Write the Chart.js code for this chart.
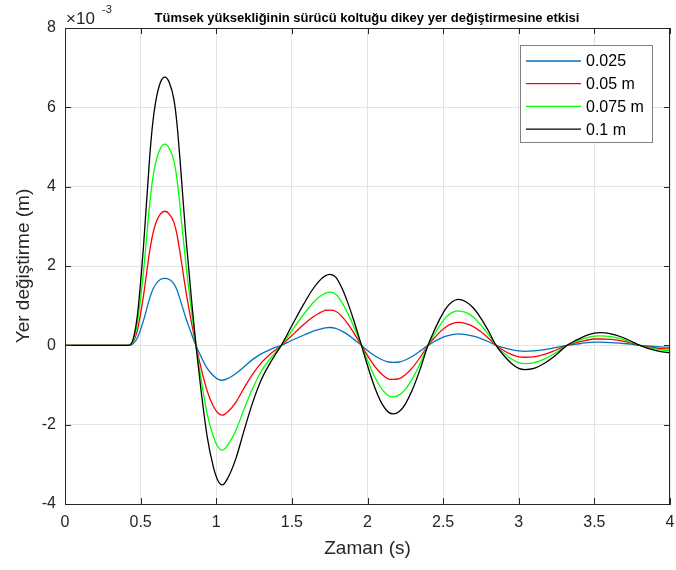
<!DOCTYPE html>
<html>
<head>
<meta charset="utf-8">
<script src="https://cdn.jsdelivr.net/npm/chart.js@4"></script>
<style>
  html, body { margin: 0; padding: 0; background: #fff; }
  #wrap { width: 676px; height: 570px; }
</style>
</head>
<body>
<div id="wrap"><canvas id="grafik" width="676" height="570"></canvas></div>
<script>
// zaman (s)
const zaman = [0, 0.42, 0.45, 0.48, 0.52, 0.56, 0.58, 0.60, 0.63, 0.66, 0.69, 0.72, 0.74, 0.76, 0.80,
  0.84, 0.87, 0.90, 0.94, 0.98, 1.01, 1.04, 1.08, 1.13, 1.18, 1.24, 1.30, 1.36, 1.40, 1.43,
  1.47, 1.52, 1.58, 1.63, 1.68, 1.72, 1.75, 1.79, 1.83, 1.87, 1.91, 1.96, 2.00, 2.05, 2.10,
  2.14, 2.17, 2.21, 2.25, 2.30, 2.35, 2.40, 2.44, 2.48, 2.52, 2.56, 2.60, 2.65, 2.70, 2.75,
  2.80, 2.85, 2.90, 2.95, 3.00, 3.04, 3.10, 3.17, 3.24, 3.32, 3.38, 3.44, 3.50, 3.54, 3.61,
  3.68, 3.74, 3.80, 3.86, 3.93, 4.0];

// yer degistirme (x 10^-3 m)
const h0025 = [0, 0, 0.04, 0.2, 0.64, 1.19, 1.4, 1.54, 1.66, 1.69, 1.66, 1.55, 1.4, 1.17, 0.68,
  0.25, -0.04, -0.29, -0.58, -0.76, -0.85, -0.88, -0.83, -0.71, -0.55, -0.36, -0.21, -0.1, -0.04, 0,
  0.07, 0.16, 0.26, 0.34, 0.4, 0.44, 0.45, 0.43, 0.36, 0.27, 0.15, 0, -0.13, -0.27, -0.37,
  -0.42, -0.43, -0.42, -0.37, -0.27, -0.14, 0, 0.09, 0.17, 0.23, 0.27, 0.29, 0.27, 0.23, 0.17,
  0.09, 0, -0.06, -0.11, -0.14, -0.15, -0.14, -0.11, -0.06, 0, 0.03, 0.06, 0.08, 0.08, 0.07,
  0.05, 0.03, 0, -0.02, -0.04, -0.05];

const h005 = [0, 0, 0.08, 0.4, 1.28, 2.38, 2.8, 3.08, 3.31, 3.38, 3.31, 3.1, 2.8, 2.35, 1.35,
  0.5, -0.08, -0.58, -1.15, -1.53, -1.7, -1.76, -1.66, -1.43, -1.1, -0.73, -0.43, -0.21, -0.09, 0,
  0.14, 0.32, 0.53, 0.69, 0.81, 0.88, 0.89, 0.86, 0.73, 0.54, 0.31, 0, -0.26, -0.54, -0.75,
  -0.85, -0.86, -0.84, -0.74, -0.55, -0.29, 0, 0.18, 0.34, 0.47, 0.55, 0.58, 0.55, 0.47, 0.34,
  0.18, 0, -0.13, -0.23, -0.29, -0.3, -0.29, -0.23, -0.13, 0, 0.07, 0.12, 0.16, 0.16, 0.15,
  0.11, 0.06, 0, -0.04, -0.08, -0.09];

const h0075 = [0, 0, 0.11, 0.6, 1.91, 3.56, 4.2, 4.61, 4.96, 5.07, 4.96, 4.65, 4.2, 3.52, 2.03,
  0.75, -0.11, -0.86, -1.73, -2.29, -2.55, -2.64, -2.49, -2.14, -1.65, -1.09, -0.64, -0.32, -0.14, 0,
  0.21, 0.48, 0.79, 1.03, 1.22, 1.31, 1.34, 1.29, 1.09, 0.8, 0.47, 0, -0.38, -0.81, -1.13,
  -1.27, -1.3, -1.25, -1.11, -0.82, -0.44, 0, 0.27, 0.51, 0.71, 0.83, 0.87, 0.83, 0.71, 0.51,
  0.27, 0, -0.19, -0.34, -0.44, -0.46, -0.44, -0.34, -0.2, 0, 0.1, 0.18, 0.23, 0.24, 0.22,
  0.16, 0.08, 0, -0.06, -0.11, -0.14];

const h01 = [0, 0, 0.15, 0.8, 2.55, 4.75, 5.6, 6.15, 6.62, 6.76, 6.62, 6.2, 5.6, 4.7, 2.7,
  1.0, -0.15, -1.15, -2.3, -3.05, -3.4, -3.52, -3.32, -2.85, -2.2, -1.45, -0.85, -0.42, -0.18, 0,
  0.28, 0.64, 1.05, 1.37, 1.62, 1.75, 1.79, 1.72, 1.45, 1.07, 0.62, 0, -0.51, -1.08, -1.5,
  -1.69, -1.73, -1.67, -1.48, -1.09, -0.58, 0, 0.36, 0.68, 0.94, 1.10, 1.16, 1.10, 0.94, 0.68,
  0.36, 0, -0.25, -0.45, -0.58, -0.61, -0.58, -0.45, -0.26, 0, 0.13, 0.24, 0.31, 0.32, 0.29,
  0.21, 0.11, 0, -0.08, -0.15, -0.19];

const etiketler = ["0.025", "0.05 m", "0.075 m", "0.1 m"];
const renkler = ["#0072BD", "#FF0000", "#00FF00", "#000000"];
const seriler = [h0025, h005, h0075, h01];

const FONT = "'Liberation Sans', Arial, sans-serif";
const YAZI = "#262626";

function noktalar(ys) {
  return zaman.map((t, i) => ({ x: t, y: ys[i] }));
}

// MATLAB tarzi kutu, ice dogru tikler, baslik, x10^-3 ve lejant
const matlabKutu = {
  id: "matlabKutu",
  afterDraw(chart) {
    const ctx = chart.ctx;
    const a = chart.chartArea;
    const xs = chart.scales.x, ys = chart.scales.y;
    ctx.save();
    ctx.strokeStyle = YAZI;
    ctx.lineWidth = 1;
    ctx.strokeRect(a.left + 0.5, a.top + 0.5, a.right - a.left - 1, a.bottom - a.top);

    ctx.beginPath();
    xs.ticks.forEach(tk => {
      const p = Math.round(xs.getPixelForValue(tk.value)) + 0.5;
      ctx.moveTo(p, a.bottom); ctx.lineTo(p, a.bottom - 6);
      ctx.moveTo(p, a.top); ctx.lineTo(p, a.top + 6);
    });
    ys.ticks.forEach(tk => {
      const p = Math.round(ys.getPixelForValue(tk.value)) + 0.5;
      ctx.moveTo(a.left, p); ctx.lineTo(a.left + 6, p);
      ctx.moveTo(a.right, p); ctx.lineTo(a.right - 6, p);
    });
    ctx.stroke();

    // baslik
    ctx.fillStyle = "#000";
    ctx.font = "bold 13px " + FONT;
    ctx.textAlign = "center";
    ctx.textBaseline = "alphabetic";
    ctx.fillText("Tümsek yüksekliğinin sürücü koltuğu dikey yer değiştirmesine etkisi", 367, 22);

    // x10^-3
    ctx.fillStyle = YAZI;
    ctx.textAlign = "left";
    ctx.font = "17px " + FONT;
    ctx.fillText("\u00d710", 66, 24);
    ctx.font = "11px " + FONT;
    ctx.fillText("-3", 102, 13);

    // lejant
    const lx = 520, ly = 45, lw = 132, lh = 97;
    ctx.fillStyle = "#fff";
    ctx.fillRect(lx, ly, lw, lh);
    ctx.strokeStyle = "#7f7f7f";
    ctx.strokeRect(lx + 0.5, ly + 0.5, lw, lh);
    ctx.font = "16px " + FONT;
    ctx.textBaseline = "middle";
    etiketler.forEach((e, i) => {
      const yy = 61 + i * 22.7;
      ctx.strokeStyle = renkler[i];
      ctx.lineWidth = 1.3;
      ctx.beginPath();
      ctx.moveTo(526, yy); ctx.lineTo(581, yy);
      ctx.stroke();
      ctx.fillStyle = "#000";
      ctx.fillText(e, 586, yy + 1);
    });
    ctx.restore();
  }
};

new Chart(document.getElementById("grafik"), {
  type: "line",
  data: {
    datasets: seriler.map((s, i) => ({
      label: etiketler[i],
      data: noktalar(s),
      borderColor: renkler[i],
      backgroundColor: renkler[i],
      borderWidth: 1.3,
      pointRadius: 0,
      cubicInterpolationMode: "monotone",
      fill: false,
      order: 4 - i
    }))
  },
  options: {
    responsive: false,
    animation: false,
    events: [],
    layout: { padding: { top: 28, right: 6, left: 0, bottom: 0 } },
    plugins: {
      legend: { display: false },
      title: { display: false },
      tooltip: { enabled: false }
    },
    scales: {
      x: {
        type: "linear",
        min: 0,
        max: 4,
        afterFit(s) { s.height = 66; s.paddingRight = 0; s.paddingLeft = 0; },
        ticks: {
          stepSize: 0.5,
          padding: 9,
          color: YAZI,
          font: { family: FONT, size: 16 },
          maxRotation: 0,
          callback: v => String(v)
        },
        grid: { color: "#e3e3e3", drawTicks: false },
        border: { display: true, color: YAZI },
        title: {
          display: true,
          text: "Zaman (s)",
          color: YAZI,
          font: { family: FONT, size: 19 },
          padding: { top: 10, bottom: 10 }
        }
      },
      y: {
        min: -4,
        max: 8,
        afterFit(s) { s.width = 65; },
        ticks: {
          stepSize: 2,
          padding: 9,
          color: YAZI,
          font: { family: FONT, size: 16 },
          callback: v => String(v)
        },
        grid: { color: "#e3e3e3", drawTicks: false },
        border: { display: true, color: YAZI },
        title: {
          display: true,
          text: "Yer değiştirme (m)",
          color: YAZI,
          font: { family: FONT, size: 19 },
          padding: { top: 12, bottom: 12 }
        }
      }
    }
  },
  plugins: [matlabKutu]
});
</script>
</body>
</html>
